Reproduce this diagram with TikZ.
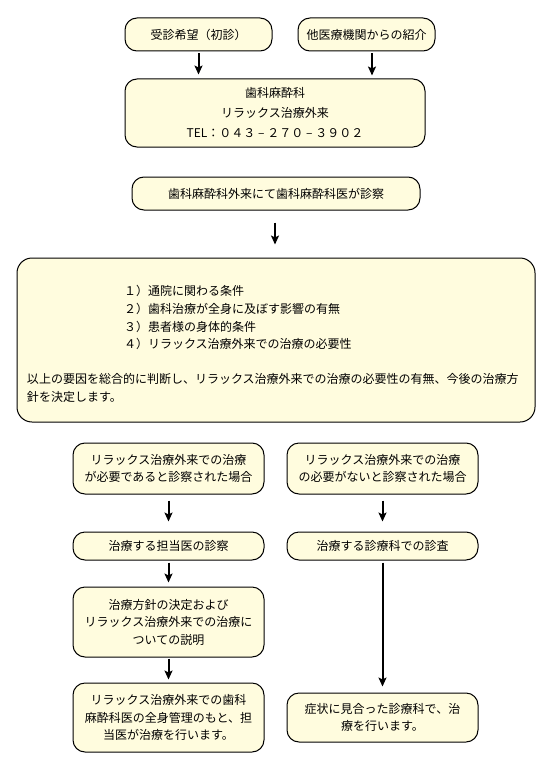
\documentclass[tikz,border=0pt]{standalone}
\usepackage{fontspec}
\setmainfont{Noto Sans CJK JP}
\usetikzlibrary{arrows.meta}
\definecolor{boxfill}{RGB}{255,252,222}
\newcommand{\teldash}{\makebox[12pt]{–}}
\begin{document}
\begin{tikzpicture}[x=1pt,y=-1pt,
  box/.style={draw=black, line width=1pt, fill=boxfill, rounded corners=12pt,
    inner sep=0pt, align=center, font=\fontsize{12}{17.5}\selectfont},
  arr/.style={line width=2pt, -{Stealth[length=9pt,width=8pt,inset=2pt]}}]
\useasboundingbox (0,0) rectangle (548,765);
\fill[white] (0,0) rectangle (548,765);

\node[box, minimum width=147pt, minimum height=33pt] (b1) at (198.5,34.5) {受診希望（初診）};
\node[box, minimum width=137pt, minimum height=33pt] (b2) at (366.5,34.5) {他医療機関からの紹介};
\node[box, minimum width=300pt, minimum height=68pt, font=\fontsize{12}{20}\selectfont] (b3) at (275,113)
  {歯科麻酔科\\リラックス治療外来\\TEL：０４３\teldash２７０\teldash３９０２};
\node[box, minimum width=288pt, minimum height=33pt] (b4) at (276,193.5) {歯科麻酔科外来にて歯科麻酔科医が診察};
\node[box, minimum width=518pt, minimum height=164pt, rounded corners=15pt] (b5) at (276,340) {};
\node[align=left, text width=498pt, inner sep=0pt, font=\fontsize{12}{17.6}\selectfont] (t5) at (276,344)
  {\hspace*{97pt}１）通院に関わる条件\\
   \hspace*{97pt}２）歯科治療が全身に及ぼす影響の有無\\
   \hspace*{97pt}３）患者様の身体的条件\\
   \hspace*{97pt}４）リラックス治療外来での治療の必要性\\[17.6pt]
   以上の要因を総合的に判断し、リラックス治療外来での治療の必要性の有無、今後の治療方\\
   針を決定します。};

\node[box, minimum width=191pt, minimum height=51pt] (l1) at (168.5,468.5)
  {リラックス治療外来での治療\\が必要であると診察された場合};
\node[box, minimum width=191pt, minimum height=51pt] (r1) at (382.5,468.5)
  {リラックス治療外来での治療\\の必要がないと診察された場合};
\node[box, minimum width=191pt, minimum height=28pt] (l2) at (168.5,546) {治療する担当医の診察};
\node[box, minimum width=191pt, minimum height=28pt] (r2) at (382.5,546) {治療する診療科での診査};
\node[box, minimum width=191pt, minimum height=70pt] (l3) at (168.5,622)
  {治療方針の決定および\\リラックス治療外来での治療に\\ついての説明};
\node[box, minimum width=191pt, minimum height=69pt] (l4) at (168.5,717.5)
  {リラックス治療外来での歯科\\麻酔科医の全身管理のもと、担\\当医が治療を行います。};
\node[box, minimum width=191pt, minimum height=49pt] (r4) at (382.5,717.5)
  {症状に見合った診療科で、治\\療を行います。};

\draw[arr] ([yshift=-2pt]b1.south) -- ([yshift=4pt]b3.north -| b1.south);
\draw[arr] ([xshift=5.5pt,yshift=-2pt]b2.south) -- ([xshift=5.5pt,yshift=-24pt]b2.south);
\draw[arr] ([xshift=-1pt,yshift=-12pt]b4.south) -- ([xshift=-1pt,yshift=13pt]b5.north);
\draw[arr] ([yshift=-6pt]l1.south) -- ([yshift=10pt]l2.north);
\draw[arr] ([yshift=-6pt]r1.south) -- ([yshift=10pt]r2.north);
\draw[arr] ([yshift=-2pt]l2.south) -- ([yshift=4pt]l3.north);
\draw[arr] ([yshift=-1pt]l3.south) -- ([yshift=3pt]l4.north);
\draw[arr] ([yshift=-2pt]r2.south) -- ([yshift=6pt]r4.north);
\end{tikzpicture}
\end{document}
